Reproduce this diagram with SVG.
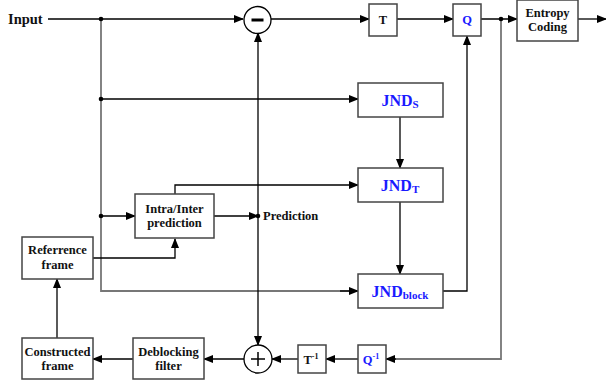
<svg xmlns="http://www.w3.org/2000/svg" width="606" height="381" viewBox="0 0 606 381">
<defs>
<marker id="ah" markerWidth="10" markerHeight="8" refX="9" refY="4" orient="auto" markerUnits="userSpaceOnUse">
<path d="M0,0 L10,4 L0,8 z" fill="#000"/>
</marker>
<style>
.box{fill:#fff;stroke:#444;stroke-width:1.5}
.ln{fill:none;stroke:#000;stroke-width:1.3}
.gl{fill:none;stroke:#777;stroke-width:1.8}
text{font-family:'Liberation Serif','DejaVu Serif',serif;font-weight:bold}
.t{font-size:12.5px;fill:#111;text-anchor:middle}
.b{font-size:16px;fill:#1a1aff;text-anchor:middle}
.dot{fill:#000}
</style>
</defs>
<rect width="606" height="381" fill="#fff"/>
<g id="connectors">
<path class="ln" d="M48,19 H243" marker-end="url(#ah)"/>
<path class="ln" d="M271,19 H369" marker-end="url(#ah)"/>
<path class="ln" d="M397,19 H453" marker-end="url(#ah)"/>
<path class="ln" d="M481,19 H517" marker-end="url(#ah)"/>
<path class="ln" d="M578,19 H606" marker-end="url(#ah)"/>
<path class="gl" d="M101,19 V291 H357"/>
<path class="ln" d="M340,291 H358" marker-end="url(#ah)"/>
<path class="ln" d="M101,99 H358" marker-end="url(#ah)"/>
<path class="ln" d="M101,216 H135" marker-end="url(#ah)"/>
<path class="ln" d="M214,216 H258" marker-end="url(#ah)"/>
<path class="ln" d="M258,216 V33" marker-end="url(#ah)"/>
<path class="ln" d="M258,216 V345" marker-end="url(#ah)"/>
<path class="ln" d="M175,194 V185 H358" marker-end="url(#ah)"/>
<path class="ln" d="M93,258 H175 V239" marker-end="url(#ah)"/>
<path class="ln" d="M400,117 V168" marker-end="url(#ah)"/>
<path class="ln" d="M400,202 V274" marker-end="url(#ah)"/>
<path class="ln" d="M443,291 H467 V36" marker-end="url(#ah)"/>
<path class="gl" d="M501,19 V359 H395"/>
<path class="ln" d="M396,359 H386" marker-end="url(#ah)"/>
<path class="ln" d="M358,359 H326" marker-end="url(#ah)"/>
<path class="ln" d="M298,359 H272" marker-end="url(#ah)"/>
<path class="ln" d="M244,359 H204" marker-end="url(#ah)"/>
<path class="ln" d="M133,359 H93" marker-end="url(#ah)"/>
<path class="ln" d="M57,338 V279" marker-end="url(#ah)"/>
<circle class="dot" cx="101" cy="19" r="2.3"/>
<circle class="dot" cx="101" cy="99" r="2.3"/>
<circle class="dot" cx="101" cy="216" r="2.3"/>
<circle class="dot" cx="258" cy="216" r="2.3"/>
<circle class="dot" cx="501" cy="19" r="2.3"/>
</g>
<g id="input"><text class="t" x="8" y="24" style="text-anchor:start;font-size:14.5px">Input</text></g>
<g id="minus">
<circle cx="257.5" cy="20" r="13.5" fill="#fff" stroke="#000" stroke-width="1.3"/>
<rect x="251.5" y="18.5" width="12" height="3" fill="#000"/>
</g>
<g id="T"><rect class="box" x="369" y="4" width="28" height="32"/><text class="t" x="383" y="24">T</text></g>
<g id="Q"><rect class="box" x="453" y="4" width="28" height="32"/><text class="t" x="467" y="24" style="fill:#1a1aff">Q</text></g>
<g id="entropy"><rect class="box" x="517" y="0" width="61" height="41"/><text class="t" x="547.5" y="17">Entropy</text><text class="t" x="547.5" y="31">Coding</text></g>
<g id="jnds"><rect class="box" x="358" y="83" width="85" height="34"/><text class="b" x="400" y="106">JND<tspan font-size="11" dy="2">S</tspan></text></g>
<g id="jndt"><rect class="box" x="358" y="168" width="85" height="34"/><text class="b" x="400" y="191">JND<tspan font-size="11" dy="2">T</tspan></text></g>
<g id="jndblock"><rect class="box" x="358" y="274" width="85" height="34"/><text class="b" x="400" y="297">JND<tspan font-size="11" dy="2">block</tspan></text></g>
<g id="intra"><rect class="box" x="135" y="194" width="79" height="44"/><text class="t" x="174.5" y="213">Intra/Inter</text><text class="t" x="174.5" y="227">prediction</text></g>
<g id="prediction"><text class="t" x="263" y="220" style="text-anchor:start">Prediction</text></g>
<g id="ref"><rect class="box" x="22" y="237" width="71" height="42"/><text class="t" x="57.5" y="254">Referrence</text><text class="t" x="57.5" y="269">frame</text></g>
<g id="constructed"><rect class="box" x="22" y="338" width="71" height="41"/><text class="t" x="57.5" y="356">Constructed</text><text class="t" x="57.5" y="370">frame</text></g>
<g id="deblock"><rect class="box" x="133" y="338" width="71" height="41"/><text class="t" x="168.5" y="356">Deblocking</text><text class="t" x="168.5" y="370">filter</text></g>
<g id="plus">
<circle cx="258" cy="359" r="14" fill="#fff" stroke="#000" stroke-width="1.3"/>
<path d="M251,359 H265 M258,352 V366" stroke="#000" stroke-width="1.5"/>
</g>
<g id="Tinv"><rect class="box" x="298" y="345" width="28" height="28"/><text class="t" x="311" y="364">T<tspan font-size="8" dy="-5">-1</tspan></text></g>
<g id="Qinv"><rect class="box" x="358" y="345" width="28" height="28"/><text class="t" x="371" y="364" style="fill:#1a1aff">Q<tspan font-size="8" dy="-5">-1</tspan></text></g>
</svg>
